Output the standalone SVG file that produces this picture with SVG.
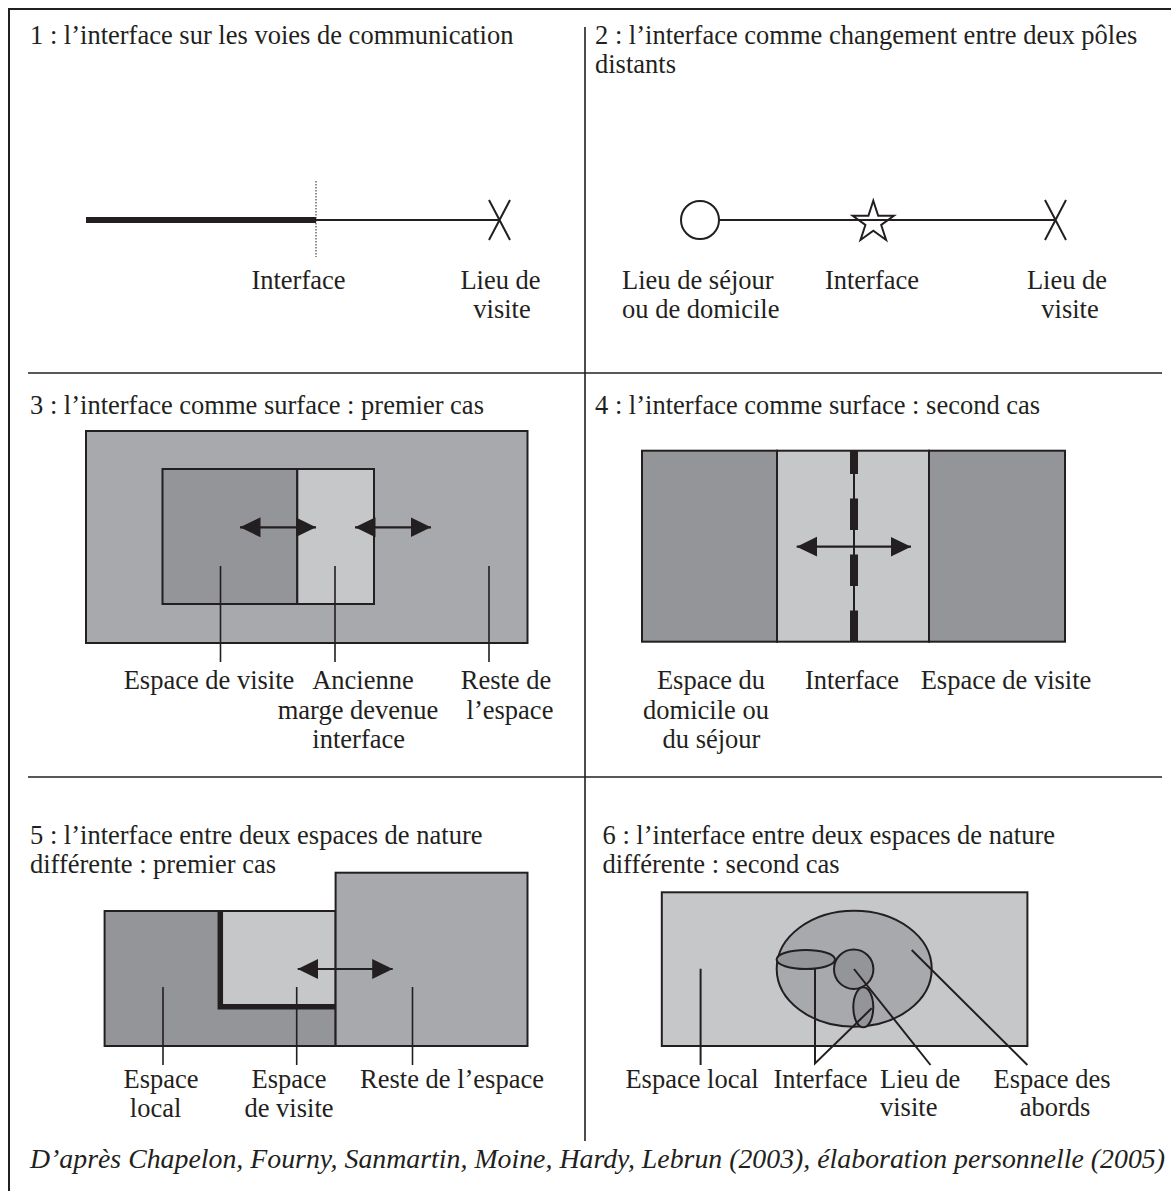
<svg xmlns="http://www.w3.org/2000/svg" width="1171" height="1191" viewBox="0 0 1171 1191">
  <style>
    text { font-family: "Liberation Serif", "Times New Roman", serif; font-size: 26.5px; fill: #231f20; }
    .mid { text-anchor: middle; }
    .it { font-style: italic; }
    .ln { stroke: #231f20; stroke-width: 2; fill: none; }
    .thin { stroke: #231f20; stroke-width: 1.6; fill: none; }
    .box { stroke: #231f20; stroke-width: 2; }
    .dark { fill: #939598; }
    .med { fill: #a7a9ac; }
    .light { fill: #c6c7c9; }
    .arr { stroke: #231f20; stroke-width: 2.2; fill: none; marker-start: url(#head); marker-end: url(#head); }
  </style>
  <defs>
    <marker id="head" markerUnits="userSpaceOnUse" markerWidth="21" markerHeight="21" refX="20.5" refY="10" orient="auto-start-reverse" viewBox="0 0 21 20">
      <path d="M0,0 L20.5,10 L0,20 z" fill="#231f20"/>
    </marker>
  </defs>

  <rect width="1171" height="1191" fill="#ffffff"/>

  <!-- frame and panel dividers -->
  <g id="frame">
    <path class="ln" d="M1171,9 H9 V1191"/>
    <line class="thin" x1="585" y1="27" x2="585" y2="1141"/>
    <line class="thin" x1="28" y1="373" x2="1162" y2="373"/>
    <line class="thin" x1="28" y1="777" x2="1162" y2="777"/>
  </g>

  <!-- panel 1 -->
  <g id="panel1">
    <text x="30" y="44">1 : l’interface sur les voies de communication</text>
    <line x1="86" y1="220" x2="316" y2="220" stroke="#231f20" stroke-width="6"/>
    <line class="ln" x1="316" y1="220" x2="499.5" y2="220"/>
    <line x1="316" y1="181" x2="316" y2="257" stroke="#231f20" stroke-width="1" stroke-dasharray="1.5 1.5"/>
    <path class="ln" d="M489,200 L510,240 M510,200 L489,240"/>
    <text class="mid" x="298.5" y="289">Interface</text>
    <text class="mid" x="500.5" y="289">Lieu de</text>
    <text class="mid" x="502" y="318">visite</text>
  </g>

  <!-- panel 2 -->
  <g id="panel2">
    <text x="595" y="44">2 : l’interface comme changement entre deux pôles</text>
    <text x="595" y="73">distants</text>
    <line class="ln" x1="719" y1="220" x2="1055" y2="220"/>
    <circle class="ln" cx="700" cy="220" r="19" fill="#ffffff"/>
    <polygon class="ln" fill="#ffffff" points="873.3,200.7 878.2,215.7 893.9,215.7 881.2,225.0 886.1,240.0 873.3,230.7 860.5,240.0 865.4,225.0 852.7,215.7 868.4,215.7"/>
    <path class="ln" d="M1045,200 L1066,240 M1066,200 L1045,240"/>
    <text x="622" y="289">Lieu de séjour</text>
    <text x="622" y="318">ou de domicile</text>
    <text class="mid" x="872" y="289">Interface</text>
    <text class="mid" x="1067" y="289">Lieu de</text>
    <text class="mid" x="1070" y="318">visite</text>
  </g>

  <!-- panel 3 -->
  <g id="panel3">
    <text x="30" y="413.5">3 : l’interface comme surface : premier cas</text>
    <rect class="box med" x="86" y="431" width="441.5" height="212"/>
    <rect class="box dark" x="162.5" y="469" width="134.8" height="135"/>
    <rect class="box light" x="297.3" y="469" width="76.7" height="135"/>
    <line class="arr" x1="240" y1="527.3" x2="316" y2="527.3"/>
    <line class="arr" x1="355" y1="527.3" x2="431" y2="527.3"/>
    <path class="thin" d="M220.5,566 V662 M335,566 V662 M489,566 V662"/>
    <text class="mid" x="209" y="689">Espace de visite</text>
    <text class="mid" x="363" y="689">Ancienne</text>
    <text class="mid" x="358" y="718.5">marge devenue</text>
    <text class="mid" x="358.7" y="748">interface</text>
    <text class="mid" x="506" y="689">Reste de</text>
    <text class="mid" x="510" y="718.5">l’espace</text>
  </g>

  <!-- panel 4 -->
  <g id="panel4">
    <text x="595" y="413.5">4 : l’interface comme surface : second cas</text>
    <rect class="box dark" x="642" y="450.7" width="135" height="191"/>
    <rect class="box light" x="777" y="450.7" width="152" height="191"/>
    <rect class="box dark" x="929" y="450.7" width="136" height="191"/>
    <line class="ln" x1="854" y1="450.7" x2="854" y2="641.7"/>
    <line x1="854" y1="450.7" x2="854" y2="641.7" stroke="#231f20" stroke-width="8" stroke-dasharray="31.7 24.3" stroke-dashoffset="8.3"/>
    <line class="arr" x1="796.7" y1="546.7" x2="911" y2="546.7"/>
    <text class="mid" x="711" y="689">Espace du</text>
    <text class="mid" x="706" y="718.5">domicile ou</text>
    <text class="mid" x="711.5" y="748">du séjour</text>
    <text class="mid" x="852" y="689">Interface</text>
    <text class="mid" x="1006" y="689">Espace de visite</text>
  </g>

  <!-- panel 5 -->
  <g id="panel5">
    <text x="30" y="843.5">5 : l’interface entre deux espaces de nature</text>
    <text x="30" y="872.5">différente : premier cas</text>
    <rect class="box dark" x="104.6" y="911" width="231" height="135"/>
    <rect class="box light" x="220.3" y="911" width="115.3" height="95.7"/>
    <rect class="box med" x="335.6" y="872.7" width="191.9" height="173.3"/>
    <path d="M220.3,910 V1006.7 H335" fill="none" stroke="#231f20" stroke-width="5.5"/>
    <line class="arr" x1="297.7" y1="969" x2="392.7" y2="969"/>
    <path class="thin" d="M163,987 V1065 M296.7,987 V1065 M412.5,987 V1065"/>
    <text class="mid" x="161" y="1087.5">Espace</text>
    <text class="mid" x="155.6" y="1117">local</text>
    <text class="mid" x="289" y="1087.5">Espace</text>
    <text class="mid" x="289" y="1117">de visite</text>
    <text class="mid" x="452" y="1087.5">Reste de l’espace</text>
  </g>

  <!-- panel 6 -->
  <g id="panel6">
    <text x="602.5" y="843.5">6 : l’interface entre deux espaces de nature</text>
    <text x="602.5" y="872.5">différente : second cas</text>
    <rect class="box light" x="661.8" y="892.3" width="365.6" height="153.7"/>
    <ellipse class="box med" cx="854.2" cy="968.7" rx="77.5" ry="58"/>
    <ellipse class="box dark" cx="805.8" cy="959.5" rx="29.2" ry="9.5"/>
    <circle class="box dark" cx="853.7" cy="969.2" r="19.7"/>
    <ellipse class="box dark" cx="863.3" cy="1007.3" rx="10" ry="20"/>
    <path class="ln" d="M700.6,968.7 V1065 M815,969 V1063.5 L871.7,1008.3 M854,969 L930.5,1065 M911.7,950 L1027.4,1065"/>
    <text class="mid" x="692" y="1087.5">Espace local</text>
    <text class="mid" x="820.5" y="1087.5">Interface</text>
    <text x="880" y="1087.5">Lieu de</text>
    <text x="880" y="1116">visite</text>
    <text class="mid" x="1052" y="1087.5">Espace des</text>
    <text class="mid" x="1055" y="1116">abords</text>
  </g>

  <!-- source line -->
  <g id="source">
    <text class="it" x="30" y="1167.5" textLength="1135" lengthAdjust="spacingAndGlyphs">D’après Chapelon, Fourny, Sanmartin, Moine, Hardy, Lebrun (2003), élaboration personnelle (2005)</text>
  </g>
</svg>
